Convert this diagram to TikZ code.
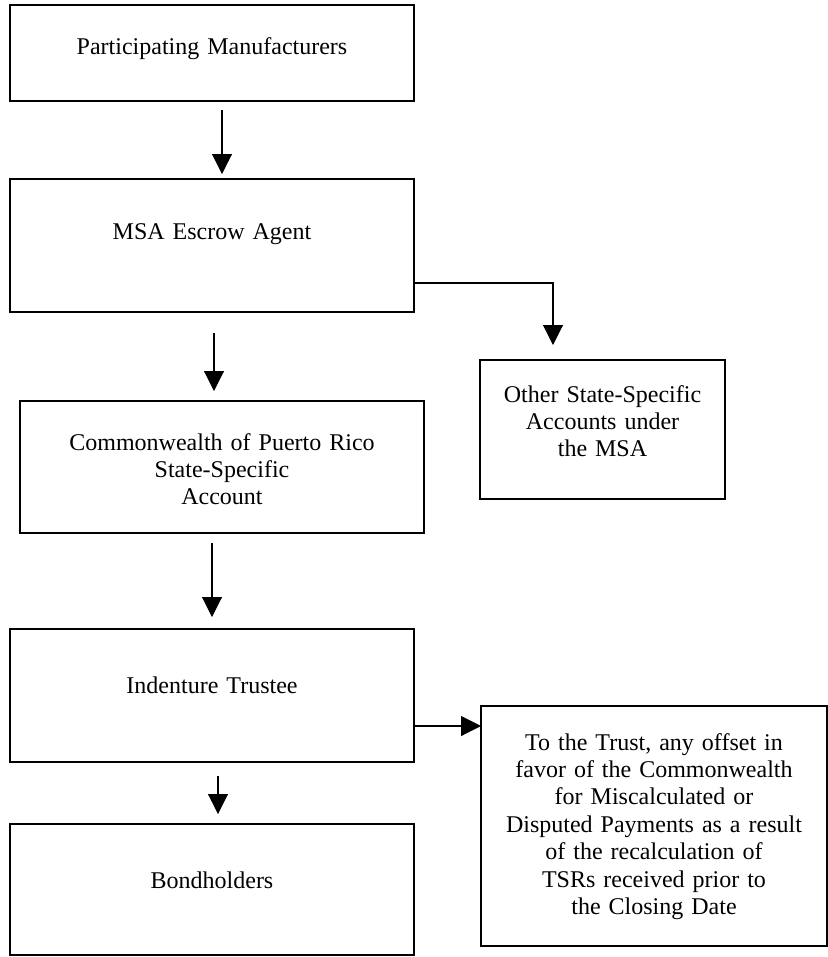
\documentclass[tikz,border=0pt]{standalone}
\usepackage{fontspec}
\setmainfont{Liberation Serif}
\usetikzlibrary{positioning,arrows.meta}

\begin{document}
\begin{tikzpicture}[box/.style={draw,line width=0.9pt,inner xsep=0pt,inner ysep=0pt,outer sep=0pt,
      text width=303pt,align=center,font=\fontsize{18}{20.6}\selectfont},
    arr/.style={line width=0.8pt,-{Triangle[width=15pt,length=15pt]}}]
        \useasboundingbox (0,0) rectangle (621pt,-717.75pt);
        \node[box,anchor=north west,text height=36.75pt,text depth=35.25pt] (pm) at (7.5pt,-3.75pt)
          {Participating Manufacturers};
        \node[box,below=58.5pt of pm,text height=45pt,text depth=54.75pt] (msa) {MSA Escrow Agent};
        \node[box,below=66.75pt of msa,xshift=7.5pt,text height=36.75pt,text depth=62.25pt] (prsa)
          {Commonwealth of Puerto Rico\\State-Specific\\Account};
        \node[box,below=72pt of prsa,xshift=-7.5pt,text height=48pt,text depth=51.75pt] (trustee)
          {Indenture Trustee};
        \node[box,below=46.5pt of trustee,text height=48pt,text depth=50.25pt] (bond) {Bondholders};
        \node[box,anchor=north west,text width=183.75pt,text height=31.5pt,text depth=72.75pt] (other)
          at ([xshift=49.5pt,yshift=-36pt]msa.south east)
          {Other State-Specific\\Accounts under\\the MSA};
        \node[box,anchor=north west,text width=259.5pt,text height=33pt,text depth=147pt] (offset)
          at ([xshift=50.25pt,yshift=42pt]trustee.south east)
          {To the Trust, any offset in\\favor of the Commonwealth\\for Miscalculated or\\Disputed Payments as a result\\of the recalculation of\\TSRs received prior to\\the Closing Date};
        \draw[arr] ([xshift=7.5pt,yshift=-6.75pt]pm.south) -- ([xshift=7.5pt,yshift=3.75pt]msa.north);
        \draw[arr] ([xshift=1.5pt,yshift=-15.75pt]msa.south) -- ([xshift=-6pt,yshift=7.5pt]prsa.north);
        \draw[arr] ([xshift=-7.5pt,yshift=-7.5pt]prsa.south) -- ([yshift=9pt]trustee.north);
        \draw[arr] ([xshift=4.5pt,yshift=-10.5pt]trustee.south) -- ([xshift=4.5pt,yshift=7.5pt]bond.north);
        \draw[arr] ([yshift=21.75pt]msa.south east) -| ([xshift=54.75pt,yshift=11.25pt]other.north west);
        \draw[arr] ([yshift=27pt]trustee.south east) -- ([yshift=-15pt]offset.north west);
      \end{tikzpicture}
\end{document}
